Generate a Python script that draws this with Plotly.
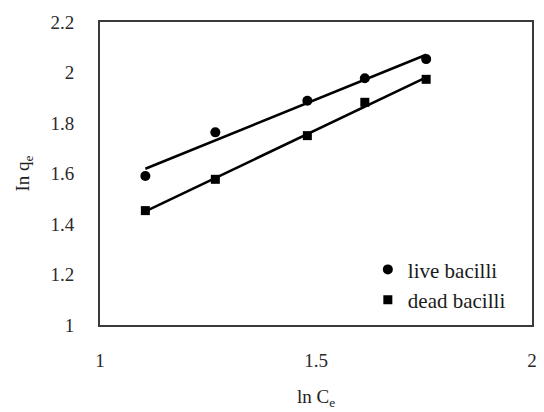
import numpy as np
import plotly.graph_objects as go

ln_ce = [1.105, 1.267, 1.480, 1.613, 1.755]
live_ln_qe = [1.590, 1.763, 1.888, 1.977, 2.053]
dead_ln_qe = [1.453, 1.577, 1.750, 1.882, 1.973]
x_ticks = [1, 1.5, 2]
x_tick_text = ["1", "1.5", "2"]
y_ticks = [1, 1.2, 1.4, 1.6, 1.8, 2, 2.2]
y_tick_text = ["1", "1.2", "1.4", "1.6", "1.8", "2", "2.2"]

FONT = "Liberation Serif"
fig = go.Figure()

for name, ys, sym, size in [("live bacilli", live_ln_qe, "circle", 10),
                            ("dead bacilli", dead_ln_qe, "square", 9)]:
    x = np.array(ln_ce)
    y = np.array(ys)
    m, b = np.polyfit(x, y, 1)
    xl = np.array([x.min(), x.max()])
    fig.add_trace(go.Scatter(x=xl, y=m * xl + b, mode="lines",
                             line=dict(color="black", width=2.5),
                             showlegend=False, hoverinfo="skip"))
    fig.add_trace(go.Scatter(x=ln_ce, y=ys, mode="markers", name=name,
                             marker=dict(symbol=sym, size=size, color="black")))

axis_common = dict(showgrid=False, zeroline=False, showline=True, mirror=True,
                   linecolor="#3a3a3a", linewidth=2, ticks="",
                   tickfont=dict(family=FONT, size=19, color="#2a2a2a"))

fig.update_xaxes(range=[1, 2], tickvals=x_ticks, ticktext=x_tick_text,
                 ticklabelstandoff=17,
                 title=dict(text="ln C<sub>e</sub>", standoff=20,
                            font=dict(family=FONT, size=19, color="#222222")),
                 **axis_common)
fig.update_yaxes(range=[1, 2.2], tickvals=y_ticks, ticktext=y_tick_text,
                 ticklabelstandoff=20,
                 title=dict(text="In q<sub>e</sub>", standoff=16,
                            font=dict(family=FONT, size=19, color="#222222")),
                 **axis_common)

fig.update_layout(
    width=544, height=412,
    margin=dict(l=100, r=7, t=22, b=87),
    paper_bgcolor="white", plot_bgcolor="white",
    legend=dict(x=0.62, y=0.25, xanchor="left", yanchor="top",
                bgcolor="rgba(0,0,0,0)",
                font=dict(family=FONT, size=21, color="#1a1a1a")),
)

fig.write_html("out.html")
